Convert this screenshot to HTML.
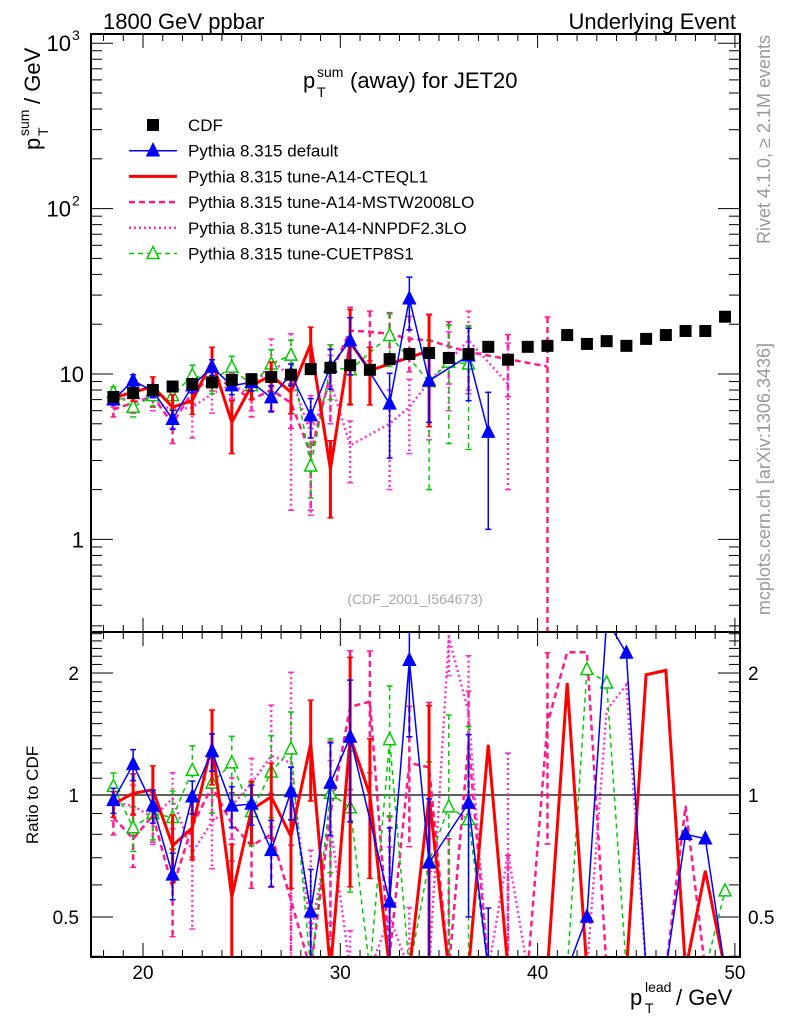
<!DOCTYPE html>
<html><head><meta charset="utf-8">
<style>
html,body{margin:0;padding:0;background:#fff;overflow:hidden;width:786px;height:1024px;}
svg{display:block;font-family:"Liberation Sans",Arial,sans-serif;}
</style></head>
<body>
<svg id="chart" width="786" height="1024" viewBox="0 0 786 1024" xmlns="http://www.w3.org/2000/svg">
<defs>
<clipPath id="clipMain"><rect x="91" y="34" width="649" height="598"/></clipPath>
<clipPath id="clipRatio"><rect x="91" y="632" width="649" height="325"/></clipPath>
</defs>
<text x="103" y="29" font-size="22">1800 GeV ppbar</text>
<text x="736" y="29" font-size="22" text-anchor="end">Underlying Event</text>
<g font-size="22">
<text x="303" y="88">p</text><text x="317" y="77" font-size="14">sum</text><text x="317" y="97" font-size="14">T</text><text x="350" y="88">(away) for JET20</text>
</g>
<g transform="translate(40,150) rotate(-90)" font-size="22">
<text x="0" y="0">p</text><text x="14" y="-11" font-size="14">sum</text><text x="14" y="8" font-size="14">T</text><text x="46" y="0">/ GeV</text>
</g>
<text transform="translate(38,795) rotate(-90)" font-size="17" text-anchor="middle">Ratio to CDF</text>
<g font-size="22">
<text x="630" y="1005">p</text><text x="645" y="992" font-size="14">lead</text><text x="645" y="1013" font-size="14">T</text><text x="676" y="1005">/ GeV</text>
</g>
<text transform="translate(770,35) rotate(-90)" font-size="18" fill="#999" text-anchor="end">Rivet 4.1.0, ≥ 2.1M events</text>
<text transform="translate(770,343) rotate(-90)" font-size="18" fill="#999" text-anchor="end">mcplots.cern.ch [arXiv:1306.3436]</text>
<text x="415" y="604" font-size="14" fill="#aaa" text-anchor="middle">(CDF_2001_I564673)</text>
<g id="axes"></g>
<g id="mainMarks" clip-path="url(#clipMain)"></g>
<g id="ratioMarks" clip-path="url(#clipRatio)"></g>
<g id="legend"></g>
<rect x="91" y="34" width="649" height="598" fill="none" stroke="#000" stroke-width="2"/>
<rect x="91" y="632" width="649" height="325" fill="none" stroke="#000" stroke-width="2"/>
</svg>
<script>
const bins = [18.5,19.5,20.5,21.5,22.5,23.5,24.5,25.5,26.5,27.5,28.5,29.5,30.5,31.5,32.5,33.5,34.5,35.5,36.5,37.5,38.5,39.5,40.5,41.5,42.5,43.5,44.5,45.5,46.5,47.5,48.5,49.5];
const cdf = [7.26,7.67,8.0,8.4,8.7,8.9,9.2,9.3,9.6,9.9,10.7,10.9,11.3,10.6,12.3,13.2,13.4,12.5,13.2,14.6,12.2,14.6,14.8,17.2,15.2,15.8,14.8,16.3,17.2,18.2,18.2,22.2];
const mcDefault = [6.99,9.1,7.9,5.33,8.5,11.0,8.5,8.9,7.2,10.0,5.6,11.1,15.9,null,6.6,28.5,9.1,null,12.9,4.45];
const errDefault = [0.5,0.8,0.7,0.7,0.8,1.2,1.0,1.0,1.3,1.5,1.5,3,6,null,3.5,10,4,null,6,3.3];
const mcCteq = [7.2,7.75,8.4,6.3,6.9,12.0,5.1,8.5,9.8,7.75,15.2,2.65,15.5,10.5,null,null,13.8];
const errCteq = [0.5,0.9,1.2,1.2,1.2,2.5,1.8,1.5,2,2,4,1.3,9,4,null,null,9];
const mcMstw = [6.1,6.7,7.3,5.0,7.8,9.5,8.5,7.0,8.0,6.7,3.3,10,18.3,18,17.5,16.3,16,14.7,13.6,null,12.3,null,11.1];
const errMstw = [0.6,0.9,1.0,1.2,1.2,1.6,1.5,1.5,2,2,1.8,5,7,6,6,6,7,6,6,null,5,null,11];
const mcNnpdf = [7.0,7.2,7.0,6.0,6.3,7.6,8.6,7.5,12.3,9.5,4.4,9.0,3.7,null,5.0,6.3,9.0,12,16,null,8.7];
const errNnpdf = [0.7,0.9,1.0,1.3,2.2,1.8,1.5,1.5,4,8,3,4,1.5,null,3,3,5,6,8,null,6.7];
const mcCuetp = [7.75,6.3,7.4,7.4,9.8,9.1,11.0,8.5,11.5,13.0,2.78,11.0,10.6,null,17.1,null,9.0,11.8,11.5];
const errCuetp = [0.6,0.8,1.0,1.2,1.5,1.5,1.8,1.5,2.5,3,1,4,4,null,6,null,7,8,8];
const rDefault = [0.97,1.19,0.94,0.635,0.99,1.28,0.94,0.95,0.73,1.02,0.515,1.07,1.39,null,0.545,2.15,0.68,null,0.955,0.3,null,null,null,0.3,0.5,2.8,2.24,0.3,0.3,0.80,0.78,0.3];
const rCteq = [0.95,1.01,1.03,0.75,0.83,1.34,0.56,0.92,0.99,0.79,1.34,0.3,1.39,1.0,0.3,0.3,0.99,0.3,0.3,1.33,0.3,0.3,0.3,1.89,0.3,0.3,0.3,1.98,2.03,0.3,0.65,0.3];
const rMstw = [0.88,0.78,0.89,0.59,0.84,1.05,0.85,0.75,0.80,0.55,0.35,0.9,1.65,1.7,0.4,1.2,1.17,0.3,1.35,0.3,0.3,0.3,1.5,2.25,2.25,0.3,0.3,0.3,0.3,0.94,0.3,0.3];
const rNnpdf = [0.96,0.94,0.88,0.98,0.72,0.86,0.94,1.07,1.25,1.2,0.45,0.85,0.33,0.3,0.5,0.3,0.3,2.45,1.6,0.3,0.72,0.3,0.3,0.3,0.3,1.62,1.87,0.3,0.3,0.3,0.3,0.3];
const rCuetp = [1.05,0.83,0.90,0.88,1.15,1.07,1.20,0.91,1.14,1.30,0.3,1.01,0.93,0.3,1.37,0.3,0.685,0.935,0.87,0.3,0.3,0.3,0.3,0.3,2.04,1.89,0.3,0.3,0.3,0.3,0.3,0.58];
const xTicks = [20,30,40,50];
const yMainTicks = [1,10,100,1000];
const yMainTickLabels = ["1","10","10","10"];
const yMainTickExp = ["","","2","3"];
const ratioTicks = [0.5,1,2];
const ratioTickLabels = ["0.5","1","2"];

const NS="http://www.w3.org/2000/svg";
const clampY = (y,lo,hi) => Math.max(lo, Math.min(hi, y));
const X = v => 143 + (v-20)*19.73;
const Y = v => clampY(374 - (Math.log10(v)-1)*165.4, 20, 645);
const R = v => clampY(795 - Math.log2(v)*122, 620, 970);
function mk(tag, attrs, parent){const e=document.createElementNS(NS,tag);for(const k in attrs)e.setAttribute(k,attrs[k]);parent.appendChild(e);return e;}

const axes=document.getElementById('axes');
for(let v=18; v<=50; v++){
  const major = v%10===0; const len = major?14:7; const x=X(v);
  for(const [y0,dir] of [[632,-1],[34,1],[957,-1],[632,1]]){
    const t=mk('line',{x1:x,x2:x,y1:y0,y2:y0+dir*len,stroke:'#000','stroke-width':1},axes);
    
    
  }
}
xTicks.forEach(v=>{
  const t=mk('text',{x:X(v),y:979,'font-size':19,'text-anchor':'middle'},axes);
  t.textContent=v;
  
  
});
for(let d=-1; d<=3; d++){
  for(let m=1;m<=9;m++){
    const v=m*Math.pow(10,d); const yr=374 - (Math.log10(v)-1)*165.4; if(yr<34||yr>632) continue;
    const y=Y(v);
    const len=m===1?22:11;
    for(const [x0,dir] of [[91,1],[740,-1]]){
      const t=mk('line',{x1:x0,x2:x0+dir*len,y1:y,y2:y,stroke:'#000','stroke-width':1},axes);
      
      
    }
  }
}
yMainTicks.forEach((v,i)=>{
  const exp=yMainTickExp[i];
  const t=mk('text',{x:exp?71:84,y:Y(v)+8,'font-size':22,'text-anchor':'end'},axes);
  t.textContent=yMainTickLabels[i];
  
  
  if(exp){const s=mk('text',{x:72,y:Y(v)-3,'font-size':14},axes);s.textContent=exp;
    
    }
});
for(let k=4;k<=25;k++){
  const v=k/10; const yr=795 - Math.log2(v)*122; if(yr<632||yr>957) continue;
  const y=R(v);
  const major=(v===0.5||v===1||v===2); const len=major?22:11;
  for(const [x0,dir] of [[91,1],[740,-1]]){
    const t=mk('line',{x1:x0,x2:x0+dir*len,y1:y,y2:y,stroke:'#000','stroke-width':1},axes);
    
    
  }
}
ratioTicks.forEach((v,i)=>{
  const t=mk('text',{x:79,y:R(v)+7,'font-size':19,'text-anchor':'end'},axes);
  t.textContent=ratioTickLabels[i];
  
  
  const t2=mk('text',{x:748,y:R(v)+7,'font-size':19},axes);
  t2.textContent=ratioTickLabels[i];
  
  
});
const oneLine=mk('line',{x1:91,x2:740,y1:R(1),y2:R(1),stroke:'#000','stroke-width':1.2},axes);



const styles={
  def:{c:'#0000ff',w:1.5,d:'',m:'tri'},
  cteq:{c:'#ff0000',w:3,d:'',m:''},
  mstw:{c:'#ff1a8c',w:2.5,d:'6,4',m:''},
  nnpdf:{c:'#ff33cc',w:2.5,d:'2,3',m:''},
  cuetp:{c:'#00cc00',w:1.5,d:'5,4',m:'otri'}
};
function marker(g,x,y,s){
  if(s.m==='tri'||s.m==='otri'){
    const p=mk('polygon',{points:`${x},${y-7} ${x-6},${y+5} ${x+6},${y+5}`,fill:s.m==='tri'?s.c:'#fff',stroke:s.c,'stroke-width':1.5},g);
    
    
  }
}
function drawSeries(parent,name,vals,errs,sc,s,ratioCdf){
  const g=mk('g',{},parent);
  
  
  const pts=[];
  vals.forEach((v,i)=>{
    if(v==null) return;
    const x=X(bins[i]); const y=sc(v);
    if(errs && errs[i]!=null){
      let e=errs[i]; if(ratioCdf) e=e/ratioCdf[i];
      const lo=Math.max(v-e,0.01), hi=v+e;
      const eb=mk('line',{x1:x,x2:x,y1:sc(hi),y2:sc(lo),stroke:s.c,'stroke-width':s.w,'stroke-dasharray':s.d},g);
      
      
      for(const yy of [sc(hi),sc(lo)]){
        const c=mk('line',{x1:x-3,x2:x+3,y1:yy,y2:yy,stroke:s.c,'stroke-width':1.5},g);
        
        
      }
    }
    pts.push([x,y]);
  });
  const pl=mk('polyline',{points:pts.map(p=>p.join(',')).join(' '),fill:'none',stroke:s.c,'stroke-width':s.w,'stroke-dasharray':s.d,'stroke-linejoin':'miter'},g);
  
  
  pts.forEach(p=>marker(g,p[0],p[1],s));
}
const mainG=document.getElementById('mainMarks');
const ratioG=document.getElementById('ratioMarks');
const series=[
  ['mstw',mcMstw,errMstw,rMstw,styles.mstw],
  ['nnpdf',mcNnpdf,errNnpdf,rNnpdf,styles.nnpdf],
  ['cuetp',mcCuetp,errCuetp,rCuetp,styles.cuetp],
  ['cteq',mcCteq,errCteq,rCteq,styles.cteq],
  ['default',mcDefault,errDefault,rDefault,styles.def]
];
series.forEach(([n,m,e,r,s])=>{
  drawSeries(mainG,'series-'+n,m,e,Y,s,null);
  drawSeries(ratioG,'ratio-'+n,r,e,R,s,cdf);
});
const cdfG=mk('g',{},mainG);


cdf.forEach((v,i)=>{
  const r=mk('rect',{x:X(bins[i])-6,y:Y(v)-6,width:12,height:12,fill:'#000'},cdfG);
  
  
});
const leg=document.getElementById('legend');
const entries=[
  ['CDF','cdf'],['Pythia 8.315 default','def'],['Pythia 8.315 tune-A14-CTEQL1','cteq'],
  ['Pythia 8.315 tune-A14-MSTW2008LO','mstw'],['Pythia 8.315 tune-A14-NNPDF2.3LO','nnpdf'],['Pythia 8.315 tune-CUETP8S1','cuetp']];
entries.forEach(([label,k],i)=>{
  const y=125+i*25.7;
  const g=mk('g',{},leg);
  
  
  if(k==='cdf'){ mk('rect',{x:147,y:y-6,width:12,height:12,fill:'#000'},g); }
  else { const s=styles[k];
    mk('line',{x1:129,x2:177,y1:y,y2:y,stroke:s.c,'stroke-width':s.w,'stroke-dasharray':s.d},g);
    marker(g,153,y,s);
  }
  const t=mk('text',{x:188,y:y+6,'font-size':17},g);
  t.textContent=label;
});
</script>
</body></html>
